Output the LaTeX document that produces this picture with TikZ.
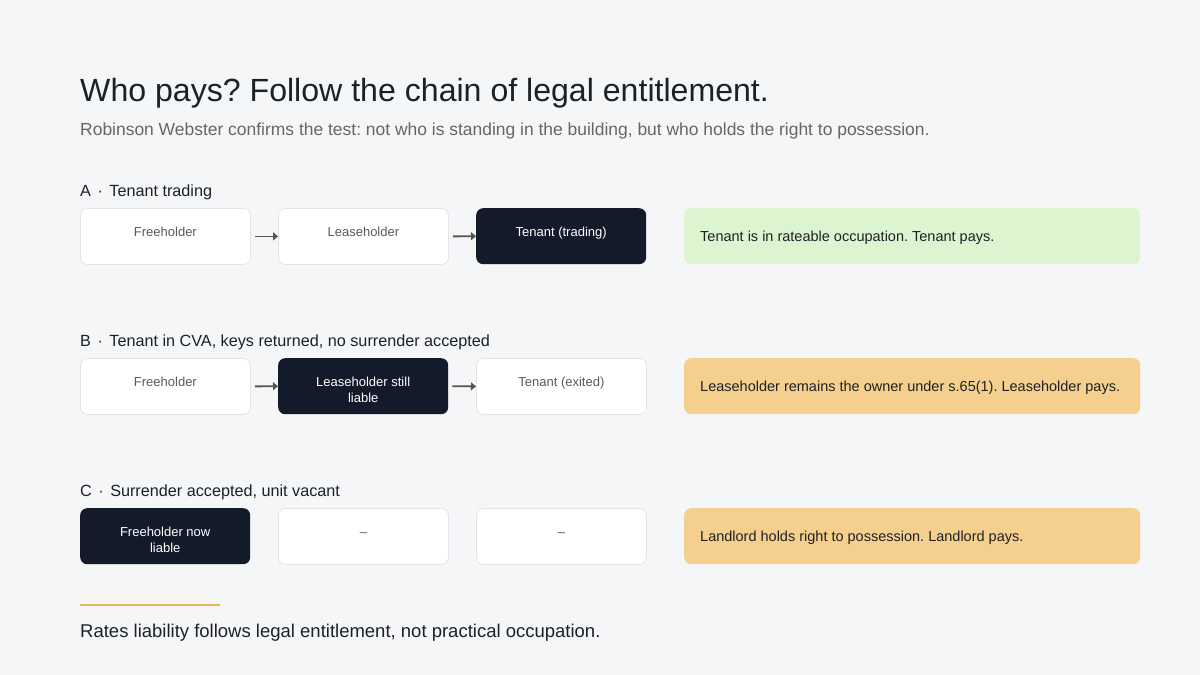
\documentclass[tikz,border=0pt]{standalone}
\usepackage{fontspec}
\setmainfont{Liberation Sans}
\usetikzlibrary{arrows.meta}
\frenchspacing
\definecolor{bg}{HTML}{F5F6F8}
\definecolor{ink}{HTML}{1E2124}
\definecolor{sub}{HTML}{666666}
\definecolor{navy}{HTML}{131A29}
\definecolor{edge}{HTML}{E2E4E8}
\definecolor{boxtxt}{HTML}{5A5A5A}
\definecolor{okgreen}{HTML}{DCF5D0}
\definecolor{warnorange}{HTML}{F5CF8E}
\definecolor{rule}{HTML}{E8B45E}
\definecolor{arrowc}{HTML}{555555}
\newcommand{\secdot}{\hspace{6.5pt}·\hspace{6.5pt}}
\tikzset{
  x=1pt,y=-1pt,
  lightbox/.style={draw=edge,line width=0.8pt,fill=white,rounded corners=7pt,minimum width=170pt,minimum height=56pt,anchor=north west,inner sep=0pt},
  darkbox/.style={draw=none,fill=navy,rounded corners=7pt,minimum width=170pt,minimum height=56pt,anchor=north west,inner sep=0pt},
  boxlabel/.style={anchor=north,align=center,font=\fontsize{13}{16}\selectfont,inner sep=0pt},
  result/.style={draw=none,rounded corners=7pt,minimum width=456pt,minimum height=56pt,anchor=north west,inner sep=0pt},
  resulttext/.style={anchor=west,font=\fontsize{14.5}{17}\selectfont,text=ink,inner sep=0pt},
  seclabel/.style={anchor=base west,font=\fontsize{16.2}{19}\selectfont,text=ink,inner sep=0pt},
  flow/.style={draw=arrowc,line width=1.8pt,-{Triangle[length=5pt,width=8pt]}},
}
\begin{document}
\begin{tikzpicture}
\fill[bg] (0,0) rectangle (1200,675);
\useasboundingbox (0,0) rectangle (1200,675);

\node[anchor=base west,inner sep=0pt,text=ink,font=\fontsize{32.1}{38}\selectfont] (title) at (80,101) {Who pays? Follow the chain of legal entitlement.};
\node[anchor=base west,inner sep=0pt,text=sub,font=\fontsize{17.45}{21}\selectfont] (subtitle) at (80,135) {Robinson Webster confirms the test: not who is standing in the building, but who holds the right to possession.};

% Row A
\node[seclabel] (la) at (80,196) {A\secdot Tenant trading};
\node[lightbox] (a1) at (80,208) {};
\node[lightbox] (a2) at (278,208) {};
\node[darkbox] (a3) at (476,208) {};
\node[boxlabel,text=boxtxt] (a1t) at ([yshift=-19pt]a1.north) {Freeholder};
\node[boxlabel,text=boxtxt] (a2t) at ([yshift=-19pt]a2.north) {Leaseholder};
\node[boxlabel,text=white] (a3t) at ([yshift=-19pt]a3.north) {Tenant (trading)};
\draw[flow] ([xshift=4pt]a1.east) -- (a2.west);
\draw[flow] ([xshift=4pt]a2.east) -- (a3.west);
\node[result,fill=okgreen] (ra) at (684,208) {};
\node[resulttext] (rat) at ([xshift=16pt,yshift=-1.5pt]ra.west) {Tenant is in rateable occupation. Tenant pays.};

% Row B
\node[seclabel] (lb) at (80,346) {B\secdot Tenant in CVA, keys returned, no surrender accepted};
\node[lightbox] (b1) at (80,358) {};
\node[darkbox] (b2) at (278,358) {};
\node[lightbox] (b3) at (476,358) {};
\node[boxlabel,text=boxtxt] (b1t) at ([yshift=-19pt]b1.north) {Freeholder};
\node[boxlabel,text=white] (b2t) at ([yshift=-19pt]b2.north) {Leaseholder still\\liable};
\node[boxlabel,text=boxtxt] (b3t) at ([yshift=-19pt]b3.north) {Tenant (exited)};
\draw[flow] ([xshift=4pt]b1.east) -- (b2.west);
\draw[flow] ([xshift=4pt]b2.east) -- (b3.west);
\node[result,fill=warnorange] (rb) at (684,358) {};
\node[resulttext] (rbt) at ([xshift=16pt,yshift=-1.5pt]rb.west) {Leaseholder remains the owner under s.65(1). Leaseholder pays.};

% Row C
\node[seclabel] (lc) at (80,496) {C\secdot Surrender accepted, unit vacant};
\node[darkbox] (c1) at (80,508) {};
\node[lightbox] (c2) at (278,508) {};
\node[lightbox] (c3) at (476,508) {};
\node[boxlabel,text=white] (c1t) at ([yshift=-19pt]c1.north) {Freeholder now\\liable};
\node[boxlabel,text=boxtxt] (c2t) at ([yshift=-19pt]c2.north) {\vphantom{Fl}–};
\node[boxlabel,text=boxtxt] (c3t) at ([yshift=-19pt]c3.north) {\vphantom{Fl}–};
\node[result,fill=warnorange] (rc) at (684,508) {};
\node[resulttext] (rct) at ([xshift=16pt,yshift=-1.5pt]rc.west) {Landlord holds right to possession. Landlord pays.};

% Footer
\coordinate (r1) at (80,605);
\coordinate (r2) at (220,605);
\draw[rule,line width=2pt] (r1) -- (r2);
\node[anchor=base west,inner sep=0pt,text=ink,font=\fontsize{18.5}{22}\selectfont] (footer) at (80,637) {Rates liability follows legal entitlement, not practical occupation.};
\end{tikzpicture}
\end{document}
